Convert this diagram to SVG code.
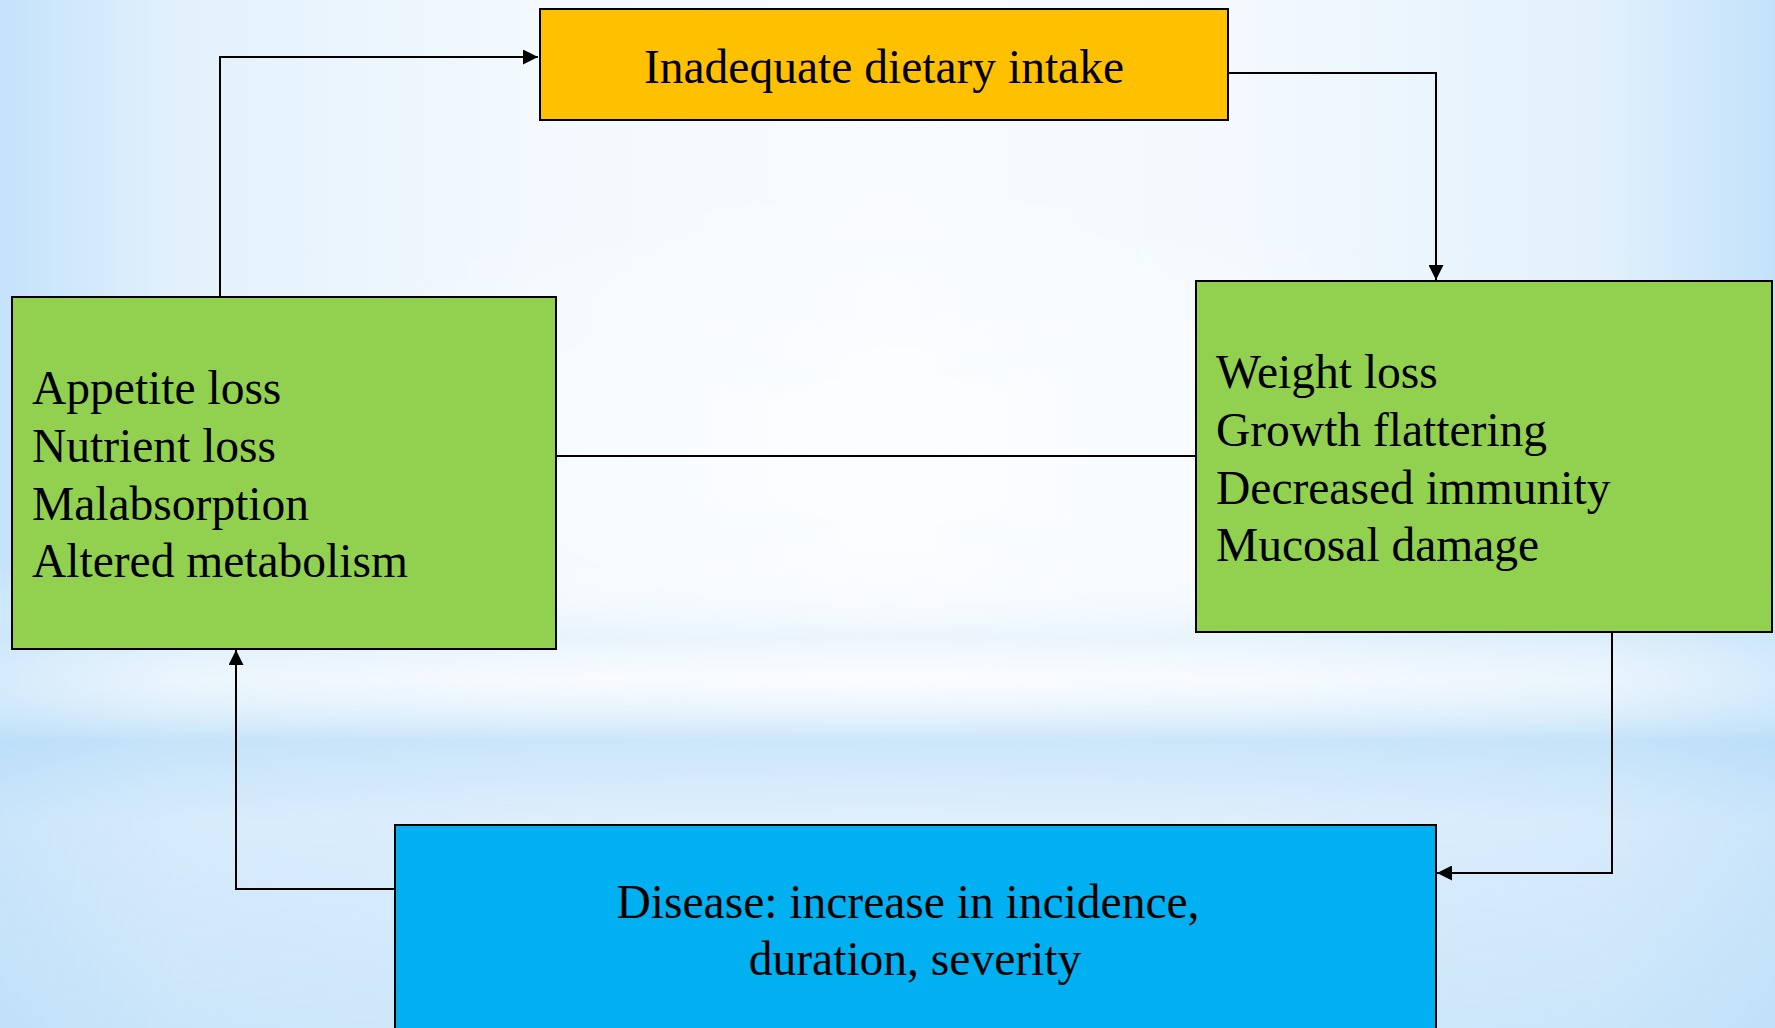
<svg xmlns="http://www.w3.org/2000/svg" width="1775" height="1028" viewBox="0 0 1775 1028">
<defs>
<linearGradient id="bgH" x1="0" y1="0" x2="1" y2="0">
<stop offset="0" stop-color="#c3e2fa"/>
<stop offset="0.1" stop-color="#e2f1fc"/>
<stop offset="0.3" stop-color="#f3f9fe"/>
<stop offset="0.5" stop-color="#f8fbff"/>
<stop offset="0.7" stop-color="#f3f9fe"/>
<stop offset="0.9" stop-color="#e2f1fc"/>
<stop offset="1" stop-color="#c3e2fa"/>
</linearGradient>
<linearGradient id="bgV" x1="0" y1="0" x2="0" y2="1">
<stop offset="0" stop-color="#ffffff" stop-opacity="0"/>
<stop offset="0.55" stop-color="#ffffff" stop-opacity="0"/>
<stop offset="0.62" stop-color="#d6ebfb" stop-opacity="0.5"/>
<stop offset="0.66" stop-color="#ffffff" stop-opacity="0.3"/>
<stop offset="0.72" stop-color="#b9ddf8" stop-opacity="0.7"/>
<stop offset="0.8" stop-color="#cfe7fb" stop-opacity="0.6"/>
<stop offset="1" stop-color="#c0e0f9" stop-opacity="0.7"/>
</linearGradient>
<radialGradient id="bgC" cx="0.5" cy="0.5" r="0.5">
<stop offset="0" stop-color="#ffffff" stop-opacity="0.6"/>
<stop offset="1" stop-color="#ffffff" stop-opacity="0"/>
</radialGradient>
<marker id="ah" viewBox="0 0 10 10" refX="10" refY="5" markerWidth="7.5" markerHeight="7.5" markerUnits="strokeWidth" orient="auto">
<path d="M0,0 L10,5 L0,10 Z" fill="#000"/>
</marker>
</defs>
<style>
.box{stroke:#000;stroke-width:2}
.t{font-family:"Liberation Serif","Times New Roman",serif;font-size:47.5px;fill:#000}
.c{fill:none;stroke:#000;stroke-width:2}
</style>
<rect width="1775" height="1028" fill="url(#bgH)"/>
<rect width="1775" height="1028" fill="url(#bgV)"/>
<ellipse cx="900" cy="450" rx="650" ry="280" fill="url(#bgC)"/>
<g id="connectors">
<path class="c" d="M220,297 V57 H538" marker-end="url(#ah)"/>
<path class="c" d="M1228,73 H1436 V280" marker-end="url(#ah)"/>
<path class="c" d="M556,456 H1196"/>
<path class="c" d="M1612,632 V873 H1437" marker-end="url(#ah)"/>
<path class="c" d="M395,889 H236 V650" marker-end="url(#ah)"/>
</g>
<g id="node-intake">
<rect class="box" x="540" y="9" width="688" height="111" fill="#FFC000"/>
<text class="t" x="884" y="83" text-anchor="middle">Inadequate dietary intake</text>
</g>
<g id="node-causes">
<rect class="box" x="12" y="297" width="544" height="352" fill="#92D050"/>
<text class="t" x="32" y="404">Appetite loss</text>
<text class="t" x="32" y="462">Nutrient loss</text>
<text class="t" x="32" y="520">Malabsorption</text>
<text class="t" x="32" y="577">Altered metabolism</text>
</g>
<g id="node-effects">
<rect class="box" x="1196" y="281" width="576" height="351" fill="#92D050"/>
<text class="t" x="1216" y="388">Weight loss</text>
<text class="t" x="1216" y="446">Growth flattering</text>
<text class="t" x="1216" y="504">Decreased immunity</text>
<text class="t" x="1216" y="561">Mucosal damage</text>
</g>
<g id="node-disease">
<rect class="box" x="395" y="825" width="1041" height="220" fill="#00B0F0"/>
<text class="t" x="908" y="918" text-anchor="middle">Disease: increase in incidence,</text>
<text class="t" x="915" y="975" text-anchor="middle">duration, severity</text>
</g>
</svg>
